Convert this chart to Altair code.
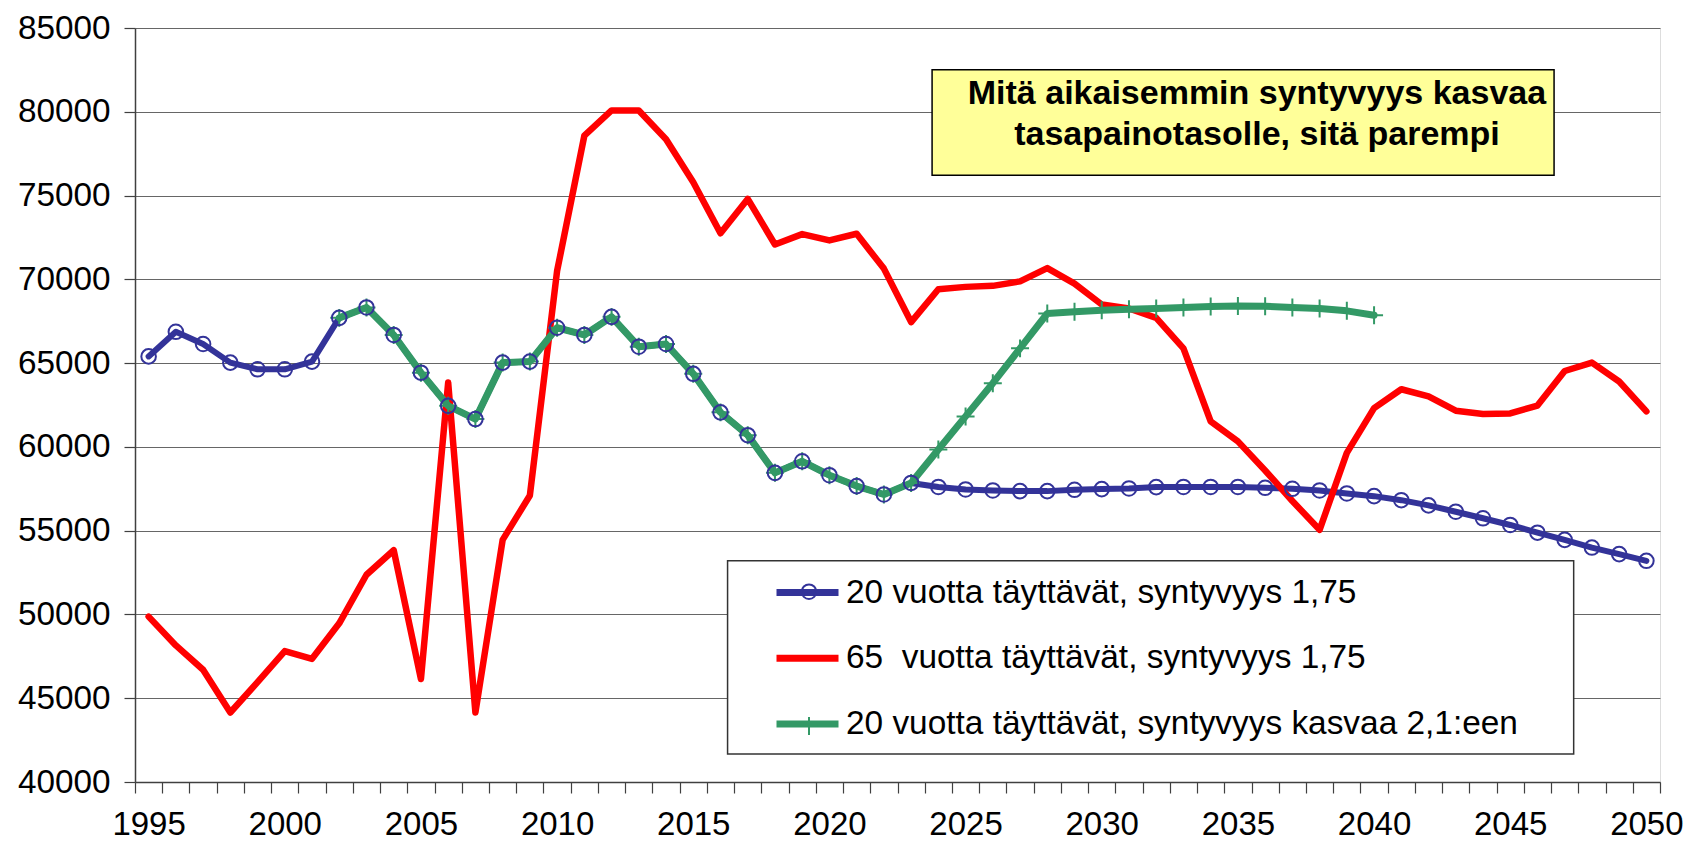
import altair as alt
import pandas as pd

years = list(range(1995, 2051))
pop20_175 = [65400, 66870, 66140, 65030, 64630, 64630, 65090, 67700, 68320, 66680,
             64430, 62450, 61660, 65030, 65090, 67110, 66680, 67760, 65980, 66140,
             64360, 62060, 60700, 58450, 59140, 58310, 57660, 57160, 57850, 57610,
             57460, 57400, 57360, 57360, 57440, 57480, 57520, 57600, 57610, 57610,
             57610, 57560, 57500, 57400, 57220, 57060, 56820, 56510, 56130, 55740,
             55340, 54880, 54450, 53990, 53600, 53200]
pop65_175 = [49870, 48150, 46700, 44150, 45960, 47810, 47350, 49470, 52370, 53830,
             46150, 63840, 44150, 54450, 57100, 70500, 78570, 80080, 80080, 78360,
             75790, 72750, 74800, 72080, 72700, 72320, 72720, 70640, 67450, 69410,
             69550, 69610, 69880, 70670, 69740, 68500, 68260, 67700, 65880, 61520,
             60330, 58590, 56770, 55050, 59640, 62310, 63440, 63010, 62160, 61960,
             62000, 62470, 64530, 65030, 63900, 62120]
green_years = list(range(2002, 2041))
pop20_21 = [67700, 68320, 66680, 64430, 62450, 61660, 65030, 65090, 67110, 66680,
            67760, 65980, 66140, 64360, 62060, 60700, 58450, 59140, 58310, 57660,
            57160, 57850, 59840, 61820, 63800, 65880, 67960, 68060, 68160, 68220,
            68260, 68320, 68380, 68410, 68400, 68320, 68260, 68120, 67860]

series_names = ["20 vuotta täyttävät, syntyvyys 1,75",
                "65\u00a0 vuotta täyttävät, syntyvyys 1,75",
                "20 vuotta täyttävät, syntyvyys kasvaa 2,1:een"]
series_colors = ["#333399", "#FF0000", "#339966"]
marker_keys = ["m1", "m2", "m3"]
y_ticks = list(range(40000, 85001, 5000))
annotation_lines = ["Mitä aikaisemmin syntyvyys kasvaa", "tasapainotasolle, sitä parempi"]

FONT = "Arial, Liberation Sans, sans-serif"

lines_df = pd.concat([
    pd.DataFrame({"year": years, "value": pop20_175, "series": series_names[0], "sid": 0}),
    pd.DataFrame({"year": years, "value": pop65_175, "series": series_names[1], "sid": 1}),
    pd.DataFrame({"year": green_years, "value": pop20_21, "series": series_names[2], "sid": 2}),
], ignore_index=True)

marker_df = pd.concat([
    pd.DataFrame({"year": green_years, "value": pop20_21, "mk": marker_keys[2]}),
    pd.DataFrame({"year": years, "value": pop20_175, "mk": marker_keys[0]}),
], ignore_index=True)

x_tick_pos = [y - 0.5 for y in years] + [years[-1] + 0.5]
x_scale = alt.Scale(domain=[1994.5, 2050.5], nice=False, zero=False)
y_scale = alt.Scale(domain=[40000, 85000], nice=False, zero=False)

x_axis = alt.Axis(values=x_tick_pos,
                  labelExpr="(datum.value + 0.5) % 5 == 0 ? toString(datum.value + 0.5) : ''",
                  labelOffset=13.6, labelOverlap=False, labelFlush=False, labelBound=False,
                  grid=False, tickSize=11, tickWidth=1.2, labelPadding=15,
                  labelFontSize=33, labelFont=FONT, labelColor="black",
                  domainColor="#404040", domainWidth=1.5, tickColor="#404040", title=None)
y_axis = alt.Axis(values=y_ticks, format="d", grid=True, gridColor="#666666", gridWidth=1.2,
                  tickSize=11, tickWidth=1.2, labelPadding=14, labelFontSize=33.3,
                  labelOverlap=False, labelFont=FONT, labelColor="black",
                  domainColor="#404040", domainWidth=1.5, tickColor="#404040", title=None)

x_enc = alt.X("year:Q", scale=x_scale, axis=x_axis, title=None)
y_enc = alt.Y("value:Q", scale=y_scale, axis=y_axis, title=None)

LEG_X, LEG_Y = 638, 530
color_enc = alt.Color("series:N", scale=alt.Scale(domain=series_names, range=series_colors),
                      legend=alt.Legend(orient="none", legendX=LEG_X, legendY=LEG_Y, title=None,
                                        labelFontSize=33.4, labelFont=FONT, labelColor="black",
                                        labelLimit=2000, symbolSize=3844, symbolStrokeWidth=7,
                                        symbolType="stroke", padding=0, rowPadding=14.7, labelOffset=4))

one = pd.DataFrame({"k": [0]})


def dx(v):
    return alt.X(datum=v, scale=x_scale, axis=x_axis, title=None)


def dy(v):
    return alt.Y(datum=v, scale=y_scale, axis=y_axis, title=None)


legend_box = alt.Chart(one).mark_rect(fill="white", stroke="#333333", strokeWidth=1.5).encode(
    x=dx(2016.26), x2=alt.X2(datum=2047.33), y=dy(53198), y2=alt.Y2(datum=41665))
note_box = alt.Chart(one).mark_rect(fill="#FFFF99", stroke="black", strokeWidth=1.5).encode(
    x=dx(2023.77), x2=alt.X2(datum=2046.61), y=dy(82506), y2=alt.Y2(datum=76205))
note_text = alt.Chart(one).mark_text(text=annotation_lines, font=FONT, fontSize=34, fontWeight="bold",
                                     align="center", baseline="middle", lineHeight=41, color="black").encode(
    x=dx(2035.7), y=dy(81050))

widths = [6, 6.5, 7]
line_layers = []
for sid in range(3):
    line_layers.append(
        alt.Chart(lines_df).transform_filter(alt.datum.sid == sid)
        .mark_line(strokeWidth=widths[sid], strokeJoin="round", strokeCap="round")
        .encode(x=x_enc, y=y_enc, color=color_enc)
    )

circle_path = "M-0.235,0A0.235,0.235,0,1,0,0.235,0A0.235,0.235,0,1,0,-0.235,0Z"
plus_path = "M-0.29,0L0.29,0M0,-0.29L0,0.29"
mk_legend = alt.Legend(orient="none", legendX=LEG_X + 4, legendY=LEG_Y + 1.7, title=None, labelExpr="''",
                       labelFontSize=33.4, labelFont=FONT, symbolSize=3844, symbolStrokeWidth=2, padding=0,
                       rowPadding=18.1, labelOffset=4)
markers = alt.Chart(marker_df).mark_point(filled=False, strokeWidth=2, size=3844, opacity=1).encode(
    x=x_enc, y=y_enc,
    shape=alt.Shape("mk:N", scale=alt.Scale(domain=marker_keys, range=[circle_path, "M0,0", plus_path]),
                    legend=mk_legend),
    stroke=alt.Stroke("mk:N", scale=alt.Scale(domain=marker_keys, range=series_colors), legend=mk_legend),
)

chart = alt.layer(legend_box, note_box, note_text, *line_layers, markers).properties(
    width=1525, height=754,
    padding={"left": 127, "top": 20, "right": 28, "bottom": 59},
    autosize=alt.AutoSizeParams(type="none"),
).configure_view(stroke="#808080", strokeWidth=2).configure_axis(labelOverlap=False).configure(background="white")

chart.save("out.html", embed_options={"renderer": "svg", "actions": False})
